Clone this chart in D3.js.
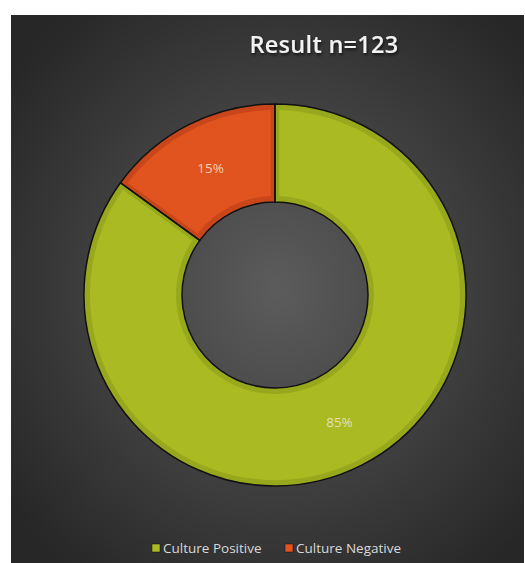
<!DOCTYPE html>
<html lang="en">
<head>
<meta charset="utf-8">
<title>Result n=123</title>
<script src="https://cdnjs.cloudflare.com/ajax/libs/d3/7.8.5/d3.min.js"></script>
<style>
  body { margin: 0; background: #fff; }
  svg { display: block; }
  text { font-family: "Open Sans", "DejaVu Sans", sans-serif; }
</style>
</head>
<body>
<div id="chart"></div>
<script>
var categories = ["Culture Positive", "Culture Negative"];
var values = [85, 15];
var labels = ["85%", "15%"];
var title = "Result n=123";

var width = 525, height = 563;
var cx = 275, cy = 295, outerR = 191, innerR = 93;

var fill = d3.scaleOrdinal().domain(categories).range(["#a9ba22", "#e2541f"]);
var edge = d3.scaleOrdinal().domain(categories).range(["#98a81c", "#c9461a"]);

var svg = d3.select("#chart").append("svg")
  .attr("width", width)
  .attr("height", height);

var defs = svg.append("defs");
var grad = defs.append("radialGradient")
  .attr("id", "bg")
  .attr("cx", "52%").attr("cy", "50%").attr("r", "65%");
grad.append("stop").attr("offset", "0%").attr("stop-color", "#5c5c5c");
grad.append("stop").attr("offset", "100%").attr("stop-color", "#272727");

var shadow = defs.append("filter").attr("id", "shadow")
  .attr("x", "-10%").attr("y", "-20%").attr("width", "130%").attr("height", "160%");
shadow.append("feDropShadow")
  .attr("dx", 1).attr("dy", 2).attr("stdDeviation", 1.5)
  .attr("flood-color", "#000").attr("flood-opacity", 0.7);

// chart area
svg.append("rect")
  .attr("x", 11).attr("y", 15)
  .attr("width", 513).attr("height", height - 15)
  .attr("fill", "url(#bg)");

svg.append("text")
  .attr("x", 324)
  .attr("y", 53)
  .attr("text-anchor", "middle")
  .attr("fill", "#f2f2f2")
  .attr("font-size", 23.5)
  .attr("font-weight", 600)
  .attr("letter-spacing", 0.3)
  .attr("filter", "url(#shadow)")
  .text(title);

var data = categories.map(function(c, i) {
  return {name: c, value: values[i], label: labels[i]};
});

var pie = d3.pie().sort(null).value(function(d) { return d.value; });
var arcs = pie(data);

var arc = d3.arc().innerRadius(innerR).outerRadius(outerR);
var arcInner = d3.arc().innerRadius(innerR + 6).outerRadius(outerR - 6).padAngle(0.04);
var labelArc = d3.arc().innerRadius((innerR + outerR) / 2).outerRadius((innerR + outerR) / 2);

var g = svg.append("g").attr("transform", "translate(" + cx + "," + cy + ")");

g.selectAll("path.base")
  .data(arcs)
  .enter().append("path")
  .attr("class", "base")
  .attr("d", arc)
  .attr("fill", function(d) { return edge(d.data.name); });

g.selectAll("path.face")
  .data(arcs)
  .enter().append("path")
  .attr("class", "face")
  .attr("d", arcInner)
  .attr("fill", function(d) { return fill(d.data.name); });

g.selectAll("path.outline")
  .data(arcs)
  .enter().append("path")
  .attr("class", "outline")
  .attr("d", arc)
  .attr("fill", "none")
  .attr("stroke", "#111")
  .attr("stroke-width", 1.5);

g.selectAll("text.lbl")
  .data(arcs)
  .enter().append("text")
  .attr("class", "lbl")
  .attr("transform", function(d) {
    var c = labelArc.centroid(d);
    return "translate(" + c[0] + "," + (c[1] + 5) + ")";
  })
  .attr("text-anchor", "middle")
  .attr("font-size", 13.5)
  .attr("fill", "#f3e6d6")
  .attr("fill-opacity", 0.85)
  .text(function(d) { return d.data.label; });

// legend
var legendX = [152, 285];
var legend = svg.append("g").selectAll("g")
  .data(categories)
  .enter().append("g")
  .attr("transform", function(d, i) { return "translate(" + legendX[i] + ",548)"; });

legend.append("rect")
  .attr("x", 0).attr("y", -4)
  .attr("width", 8).attr("height", 8)
  .attr("fill", function(d) { return fill(d); })
  .attr("stroke", "#111").attr("stroke-width", 0.5);

legend.append("text")
  .attr("x", 11)
  .attr("y", 5)
  .attr("font-size", 13.5)
  .attr("fill", "#d9d9d9")
  .text(function(d) { return d; });
</script>
</body>
</html>
